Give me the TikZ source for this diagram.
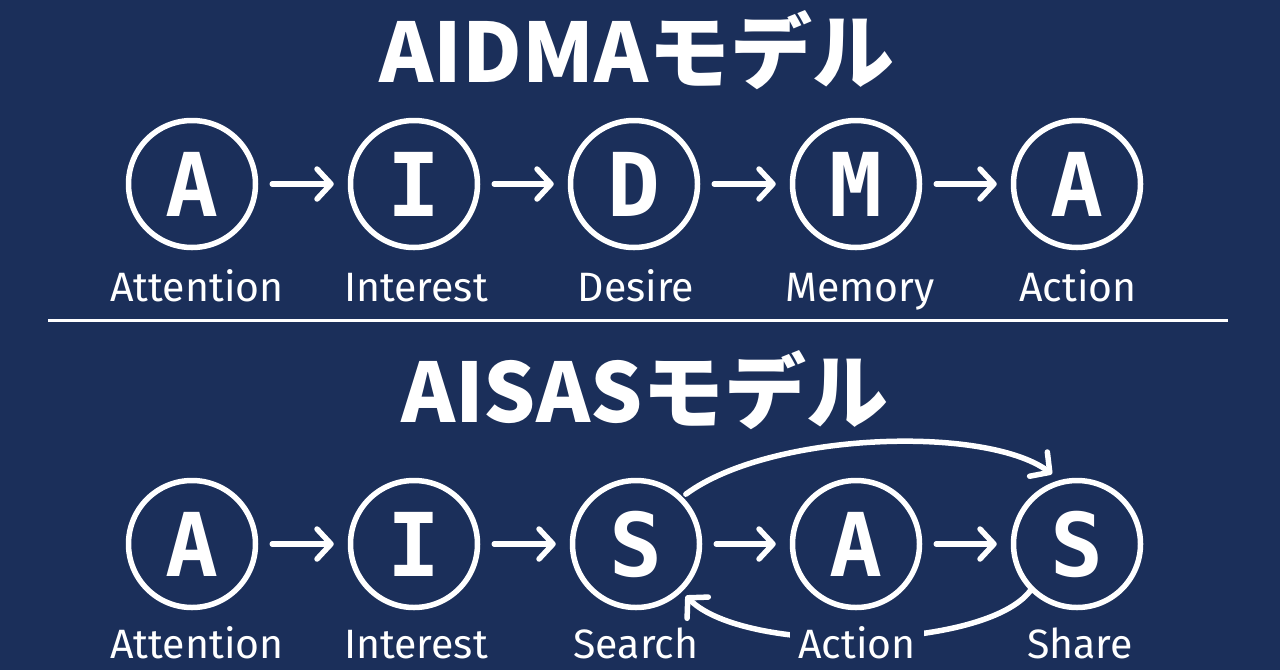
\documentclass[tikz,border=0pt]{standalone}
\usepackage{fontspec}
\usetikzlibrary{arrows.meta}
\newfontfamily\cjk{Noto Sans CJK JP}
\newfontfamily\lblfont{Fira Sans}
\newfontfamily\letterfont{DejaVu Sans Mono}
\definecolor{bg}{RGB}{27,47,90}
\begin{document}
\begin{tikzpicture}[x=1pt,y=-1pt,
  stage/.style={circle,draw=white,line width=5.5pt,minimum size=127pt,inner sep=0pt,
    text=white,font=\letterfont\bfseries\fontsize{88}{88}\selectfont},
  lbl/.style={text=white,font=\lblfont\fontsize{41}{41}\selectfont,inner sep=1pt,anchor=base},
  ttl/.style={text=white,font=\cjk\bfseries\fontsize{82}{82}\selectfont},
  arr/.style={white,line width=5.5pt,line cap=round,
    -{Straight Barb[length=14pt,width=30pt,line width=5.5pt,round]}},
  gap/.style={shorten <=14pt,shorten >=14pt}]
\fill[bg] (0,0) rectangle (1280,670);
\useasboundingbox (0,0) rectangle (1280,670);
% ---------- AIDMA ----------
\node[ttl] (t1) at (637,50) {AIDMAモデル};
\node[stage] (a1) at (192,184) {A};
\node[stage] (i1) at (414,184) {I};
\node[stage] (d1) at (634,184) {D};
\node[stage] (m1) at (856,184) {M};
\node[stage] (x1) at (1077,184) {A};
\foreach \p/\q in {a1/i1,i1/d1,d1/m1,m1/x1}
  \draw[arr,gap] (\p) -- (\q);
\node[lbl] (la1) at (197,301) {Attention};
\node[lbl] (li1) at (416,301) {Interest};
\node[lbl] (ld1) at (636,301) {Desire};
\node[lbl] (lm1) at (860,301) {Memory};
\node[lbl] (lx1) at (1078,301) {Action};
% separator
\coordinate (sl) at (48,320);
\coordinate (sr) at (1228,320);
\draw[white,line width=3pt] (sl) -- (sr);
% ---------- AISAS ----------
\node[ttl] (t2) at (645,390) {AISASモデル};
\node[stage] (a2) at (192,544) {A};
\node[stage] (i2) at (414,544) {I};
\node[stage] (s2) at (636,544) {S};
\node[stage] (x2) at (856,544) {A};
\node[stage] (h2) at (1077,544) {S};
\foreach \p/\q in {a2/i2,i2/s2,s2/x2,x2/h2}
  \draw[arr,gap] (\p) -- (\q);
% loop arrows
\draw[arr] ([shift={(3,-3)}]s2.45) .. controls (770,432) and (985,425) .. ([shift={(-25,-70)}]h2.center);
\draw[arr] (h2.-135) .. controls (985,650) and (745,655) .. ([shift={(3,5)}]s2.-45);
\node[lbl] (la2) at (197,658) {Attention};
\node[lbl] (li2) at (416,658) {Interest};
\node[lbl] (ls2) at (636,658) {Search};
\node[lbl,fill=bg,inner xsep=8pt,inner ysep=6pt] (lx2) at (857,658) {Action};
\node[lbl] (lh2) at (1080,658) {Share};
\end{tikzpicture}
\end{document}
